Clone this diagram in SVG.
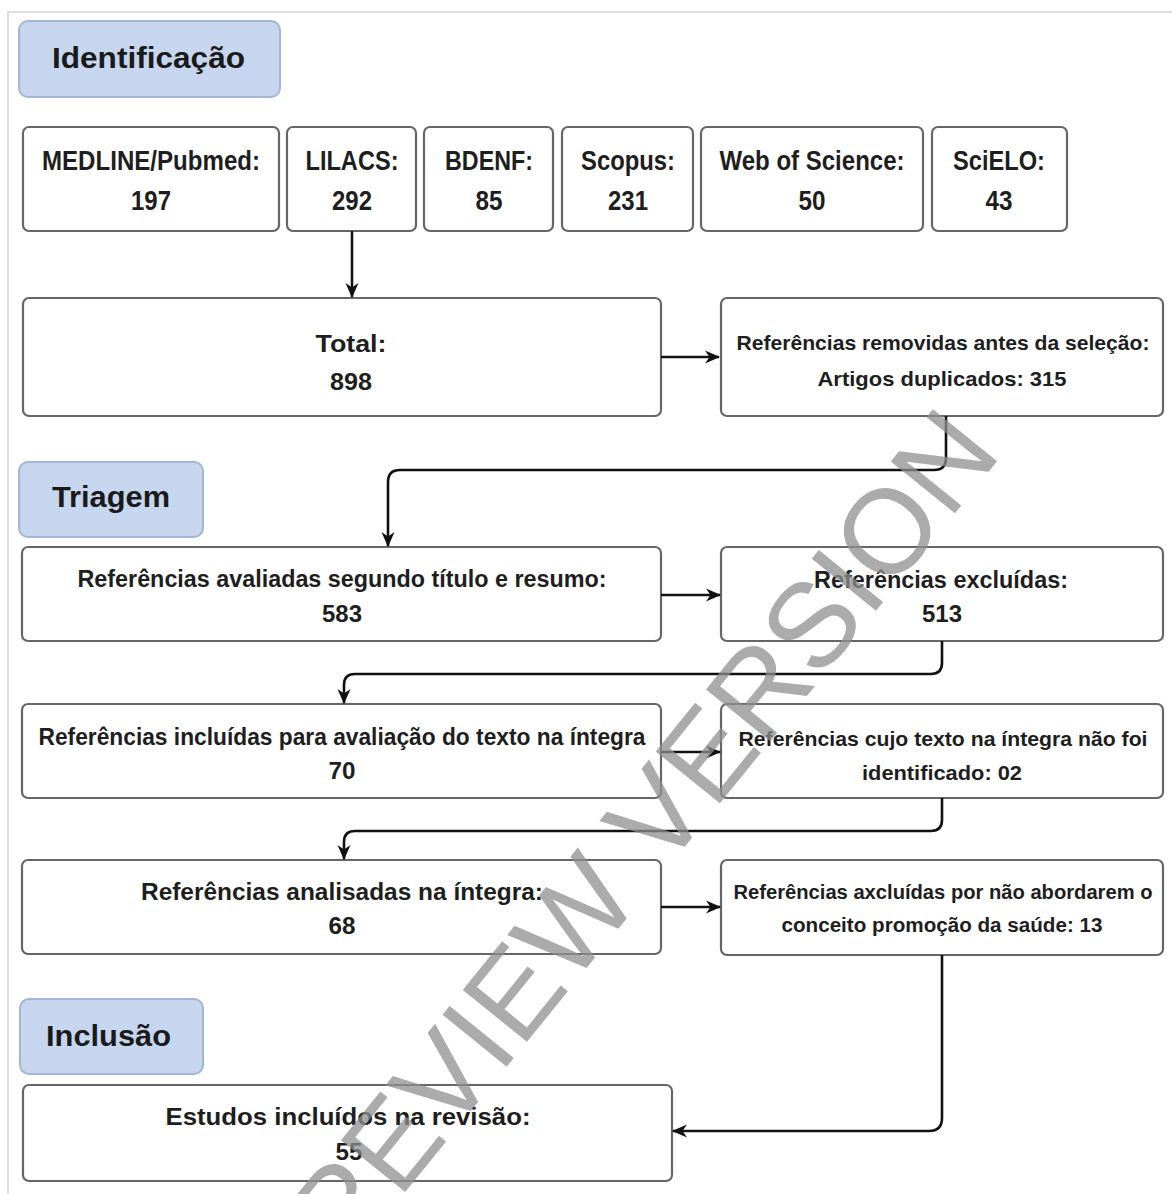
<svg xmlns="http://www.w3.org/2000/svg" width="1172" height="1194" viewBox="0 0 1172 1194">
<defs>
<style>
.box{fill:#ffffff;stroke:#666666;stroke-width:2.2}
.lbl{fill:#c6d6ef;stroke:#a3b6d4;stroke-width:2}
.t{font-family:"Liberation Sans",Arial,sans-serif;font-weight:bold;fill:#1e1e1e;text-anchor:middle}
.s24{font-size:27px}
.s23{font-size:23px}
.s21{font-size:21px}
.s20{font-size:20px}
.h{font-family:"Liberation Sans",Arial,sans-serif;font-weight:bold;fill:#1a1a1a;font-size:29px}
.c{fill:none;stroke:#111111;stroke-width:2.6}
.wm{font-family:"Liberation Sans",Arial,sans-serif;font-weight:normal;font-size:120px;fill:#8f8f8f;fill-opacity:0.75;text-anchor:middle}
</style>
<marker id="ah" markerWidth="16" markerHeight="16" refX="14" refY="8" orient="auto" markerUnits="userSpaceOnUse">
<path d="M0,1.5 L15,8 L0,14.5 L4.5,8 Z" fill="#111111"/>
</marker>
</defs>
<rect x="8" y="12" width="1180" height="1200" fill="#ffffff" stroke="#d4d4d4" stroke-width="1.5"/>

<g id="lbl-identificacao"><rect class="lbl" x="19" y="21" width="261" height="76" rx="9"/><text class="h" x="52" y="68" textLength="193" lengthAdjust="spacingAndGlyphs">Identificação</text></g>

<g id="src-medline"><rect class="box" x="23" y="127" width="256" height="104" rx="6"/><text class="t s24" x="151" y="170" textLength="218" lengthAdjust="spacingAndGlyphs">MEDLINE/Pubmed:</text><text class="t s24" x="151" y="210" textLength="40" lengthAdjust="spacingAndGlyphs">197</text></g>
<g id="src-lilacs"><rect class="box" x="287" y="127" width="129" height="104" rx="6"/><text class="t s24" x="352" y="170" textLength="93" lengthAdjust="spacingAndGlyphs">LILACS:</text><text class="t s24" x="352" y="210" textLength="40" lengthAdjust="spacingAndGlyphs">292</text></g>
<g id="src-bdenf"><rect class="box" x="424" y="127" width="129" height="104" rx="6"/><text class="t s24" x="489" y="170" textLength="88" lengthAdjust="spacingAndGlyphs">BDENF:</text><text class="t s24" x="489" y="210" textLength="27" lengthAdjust="spacingAndGlyphs">85</text></g>
<g id="src-scopus"><rect class="box" x="562" y="127" width="131" height="104" rx="6"/><text class="t s24" x="628" y="170" textLength="94" lengthAdjust="spacingAndGlyphs">Scopus:</text><text class="t s24" x="628" y="210" textLength="40" lengthAdjust="spacingAndGlyphs">231</text></g>
<g id="src-wos"><rect class="box" x="701" y="127" width="222" height="104" rx="6"/><text class="t s24" x="812" y="170" textLength="185" lengthAdjust="spacingAndGlyphs">Web of Science:</text><text class="t s24" x="812" y="210" textLength="27" lengthAdjust="spacingAndGlyphs">50</text></g>
<g id="src-scielo"><rect class="box" x="932" y="127" width="135" height="104" rx="6"/><text class="t s24" x="999" y="170" textLength="92" lengthAdjust="spacingAndGlyphs">SciELO:</text><text class="t s24" x="999" y="210" textLength="27" lengthAdjust="spacingAndGlyphs">43</text></g>

<g id="total"><rect class="box" x="23" y="298" width="638" height="118" rx="6"/><text class="t s23" x="351" y="352" textLength="71" lengthAdjust="spacingAndGlyphs">Total:</text><text class="t s23" x="351" y="390" textLength="42" lengthAdjust="spacingAndGlyphs">898</text></g>
<g id="removidas"><rect class="box" x="721" y="298" width="442" height="118" rx="6"/><text class="t s21" x="943" y="350" textLength="413" lengthAdjust="spacingAndGlyphs">Referências removidas antes da seleção:</text><text class="t s21" x="942" y="386" textLength="249" lengthAdjust="spacingAndGlyphs">Artigos duplicados: 315</text></g>

<g id="lbl-triagem"><rect class="lbl" x="19" y="462" width="184" height="75" rx="9"/><text class="h" x="52" y="507" textLength="118" lengthAdjust="spacingAndGlyphs">Triagem</text></g>

<g id="avaliadas"><rect class="box" x="22" y="547" width="639" height="94" rx="6"/><text class="t s23" x="342" y="587" textLength="529" lengthAdjust="spacingAndGlyphs">Referências avaliadas segundo título e resumo:</text><text class="t s23" x="342" y="622" textLength="40" lengthAdjust="spacingAndGlyphs">583</text></g>
<g id="excluidas"><rect class="box" x="721" y="547" width="442" height="94" rx="6"/><text class="t s23" x="941" y="588" textLength="254" lengthAdjust="spacingAndGlyphs">Referências excluídas:</text><text class="t s23" x="942" y="622" textLength="40" lengthAdjust="spacingAndGlyphs">513</text></g>

<g id="incluidas"><rect class="box" x="22" y="704" width="639" height="94" rx="6"/><text class="t s23" x="342" y="745" textLength="607" lengthAdjust="spacingAndGlyphs">Referências incluídas para avaliação do texto na íntegra</text><text class="t s23" x="342" y="779" textLength="27" lengthAdjust="spacingAndGlyphs">70</text></g>
<g id="nao-identificado"><rect class="box" x="721" y="704" width="442" height="94" rx="6"/><text class="t s21" x="943" y="746" textLength="409" lengthAdjust="spacingAndGlyphs">Referências cujo texto na íntegra não foi</text><text class="t s21" x="942" y="780" textLength="160" lengthAdjust="spacingAndGlyphs">identificado: 02</text></g>

<g id="analisadas"><rect class="box" x="22" y="860" width="639" height="94" rx="6"/><text class="t s23" x="342" y="900" textLength="402" lengthAdjust="spacingAndGlyphs">Referências analisadas na íntegra:</text><text class="t s23" x="342" y="934" textLength="27" lengthAdjust="spacingAndGlyphs">68</text></g>
<g id="excluidas-conceito"><rect class="box" x="721" y="860" width="442" height="95" rx="6"/><text class="t s20" x="943" y="899" textLength="419" lengthAdjust="spacingAndGlyphs">Referências axcluídas por não abordarem o</text><text class="t s20" x="942" y="932" textLength="321" lengthAdjust="spacingAndGlyphs">conceito promoção da saúde: 13</text></g>

<g id="lbl-inclusao"><rect class="lbl" x="20" y="999" width="183" height="75" rx="9"/><text class="h" x="46" y="1046" textLength="125" lengthAdjust="spacingAndGlyphs">Inclusão</text></g>

<g id="incluidos"><rect class="box" x="23" y="1085" width="649" height="96" rx="6"/><text class="t s23" x="348" y="1125" textLength="365" lengthAdjust="spacingAndGlyphs">Estudos incluídos na revisão:</text><text class="t s23" x="349" y="1160" textLength="27" lengthAdjust="spacingAndGlyphs">55</text></g>

<g id="connectors">
<path class="c" d="M352 231 V297" marker-end="url(#ah)"/>
<path class="c" d="M661 357 H719" marker-end="url(#ah)"/>
<path class="c" d="M946 416 V458 Q946 470 934 470 H400 Q388 470 388 482 V546" marker-end="url(#ah)"/>
<path class="c" d="M661 595 H720" marker-end="url(#ah)"/>
<path class="c" d="M942 641 V663 Q942 674 931 674 H355 Q344 674 344 685 V703" marker-end="url(#ah)"/>
<path class="c" d="M661 752 H720" marker-end="url(#ah)"/>
<path class="c" d="M942 798 V820 Q942 831 931 831 H355 Q344 831 344 842 V859" marker-end="url(#ah)"/>
<path class="c" d="M661 907 H720" marker-end="url(#ah)"/>
<path class="c" d="M942 955 V1118 Q942 1131 929 1131 H673" marker-end="url(#ah)"/>
</g>

<g id="watermark">
<text class="wm" transform="translate(616,865) rotate(-51)" x="0" y="42">PREVIEW VERSION</text>
</g>
</svg>
